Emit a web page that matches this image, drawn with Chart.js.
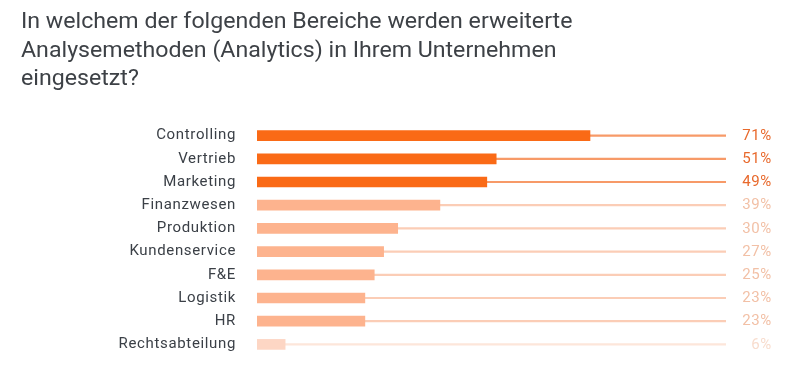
<!DOCTYPE html>
<html><head><meta charset="utf-8">
<script src="https://cdn.jsdelivr.net/npm/chart.js@4.4.0/dist/chart.umd.min.js"></script>
<style>
html,body{margin:0;padding:0;background:#fff;}
#wrap{position:relative;width:800px;height:374px;overflow:hidden;}
#title{position:absolute;left:21px;top:7.3px;font-family:Roboto,sans-serif;font-size:22px;line-height:28.3px;color:#3d4146;transform:scaleX(1.053);transform-origin:0 0;white-space:nowrap;}
canvas{position:absolute;left:0;top:0;}
</style></head><body>
<div id="wrap">
<canvas id="c" width="800" height="374"></canvas>
<div id="title">In welchem der folgenden Bereiche werden erweiterte<br>Analysemethoden (Analytics) in Ihrem Unternehmen<br>eingesetzt?</div>
</div>
<script>
const categories = ["Controlling","Vertrieb","Marketing","Finanzwesen","Produktion","Kundenservice","F&E","Logistik","HR","Rechtsabteilung"];
const values = [71,51,49,39,30,27,25,23,23,6];
const trackValues = [100,100,100,100,100,100,100,100,100,100];
const tiers = [0,0,0,1,1,1,1,1,1,2];
const barColors = ["#fa6a16","#fdb38e","#fdd6c4"];
const trackColors = ["#f79a68","#fbcdb6","#fde6da"];
const labelColors = ["#e8692c","#f2c0a6","#f8dccd"];

const spacingPlugin = {
  id:'spacing',
  beforeDraw(chart){ chart.ctx.letterSpacing = '0.65px'; }
};

const pctPlugin = {
  id:'pct',
  afterDatasetsDraw(chart){
    const ctx = chart.ctx;
    const meta = chart.getDatasetMeta(0);
    ctx.save();
    ctx.letterSpacing = '0.65px';
    ctx.font = '15px Roboto, sans-serif';
    ctx.textAlign = 'right';
    ctx.textBaseline = 'middle';
    meta.data.forEach((bar,i)=>{
      ctx.fillStyle = labelColors[tiers[i]];
      ctx.fillText(values[i]+'%', 772, bar.y+0.5);
    });
    ctx.restore();
  }
};

new Chart(document.getElementById('c'),{
  type:'bar',
  data:{
    labels:categories,
    datasets:[
      {data:values, backgroundColor:tiers.map(t=>barColors[t]), barThickness:10, order:0, grouped:false},
      {data:trackValues, backgroundColor:tiers.map(t=>trackColors[t]), barThickness:1.5, order:1, grouped:false}
    ]
  },
  options:{
    indexAxis:'y',
    responsive:false,
    animation:false,
    layout:{padding:{top:124,bottom:18,right:74,left:0}},
    plugins:{legend:{display:false},tooltip:{enabled:false},title:{display:false}},
    scales:{
      x:{display:false,min:0,max:100},
      y:{
        afterFit(axis){axis.width=257; axis.paddingTop=0; axis.paddingBottom=0;},
        grid:{display:false,drawTicks:false},
        border:{display:false},
        ticks:{padding:21,color:'#3b4047',font:{family:'Roboto, sans-serif',size:15}}
      }
    }
  },
  plugins:[spacingPlugin,pctPlugin]
});
</script>
</body></html>
